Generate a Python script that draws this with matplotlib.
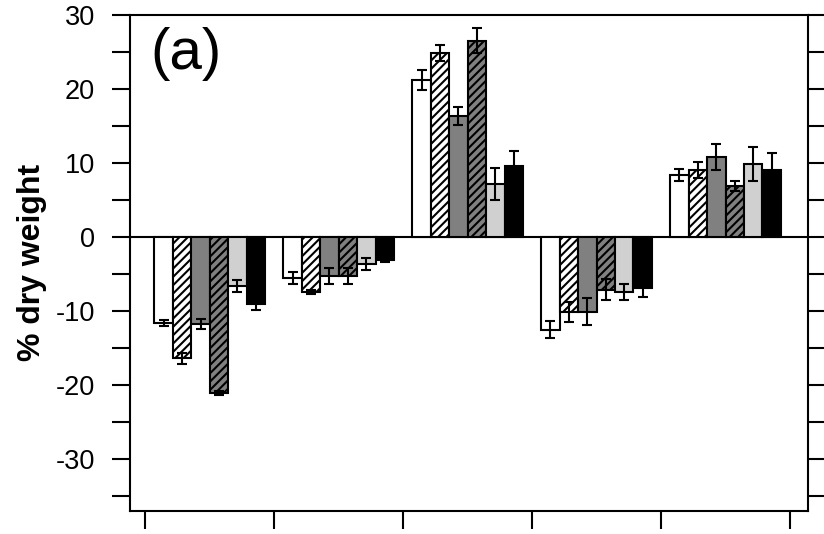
import numpy as np
import matplotlib
matplotlib.use('Agg')
import matplotlib.pyplot as plt
from matplotlib.ticker import MultipleLocator

# values (% dry weight), 5 groups x 6 treatments
n_groups = 5
white = [-11.6, -5.6, 21.2, -12.5, 8.4]
white_err = [0.45, 0.8, 1.3, 1.1, 0.8]
white_hatch = [-16.4, -7.4, 24.8, -10.1, 9.0]
white_hatch_err = [0.75, 0.3, 1.1, 1.35, 1.1]
gray = [-11.8, -5.3, 16.35, -10.1, 10.8]
gray_err = [0.68, 1.1, 1.2, 1.85, 1.7]
gray_hatch = [-21.1, -5.3, 26.5, -7.1, 6.9]
gray_hatch_err = [0.3, 1.1, 1.65, 1.4, 0.68]
light = [-6.6, -3.6, 7.2, -7.4, 9.9]
light_err = [0.84, 0.8, 2.15, 1.06, 2.3]
black = [-9.0, -3.15, 9.6, -6.85, 9.0]
black_err = [0.9, 0.3, 2.0, 1.2, 2.35]

panel_label = '(a)'
y_label = '% dry weight'
y_ticks = [-30, -20, -10, 0, 10, 20, 30]


def main():
    plt.rcParams['font.family'] = ['Liberation Sans', 'DejaVu Sans']
    plt.rcParams['hatch.linewidth'] = 1.5
    # the original uses a plain hyphen for negatives
    plt.rcParams['axes.unicode_minus'] = False

    fig = plt.figure(figsize=(8.24, 5.34), dpi=100)
    ax = fig.add_axes([0.1572, 0.0431, 0.8230, 0.9294])

    # (values, errors, face colour, hatch)
    series = [
        (white, white_err, 'white', None),
        (white_hatch, white_hatch_err, 'white', '////'),
        (gray, gray_err, '#808080', None),
        (gray_hatch, gray_hatch_err, '#808080', '////'),
        (light, light_err, '#d0d0d0', None),
        (black, black_err, 'black', None),
    ]

    x = np.arange(n_groups)
    width = 0.143
    offsets = (np.arange(len(series)) - (len(series) - 1) / 2) * width

    # zero line across the panel
    ax.axhline(0, color='black', linewidth=1.5, zorder=1)

    for (vals, errs, face, hatch), off in zip(series, offsets):
        ax.bar(x + off, vals, width, color=face, edgecolor='black',
               linewidth=1.5, hatch=hatch, zorder=2)
        ax.errorbar(x + off, vals, yerr=errs, fmt='none', ecolor='black',
                    elinewidth=1.5, capsize=3.5, capthick=1.5, zorder=3)

    ax.set_xlim(-0.622, 4.637)
    ax.set_ylim(-37, 30)

    # group separators as ticks, no labels
    ax.set_xticks(np.arange(n_groups + 1) - 0.5)
    ax.set_xticklabels([])
    ax.tick_params(axis='x', direction='out', length=13, width=1.5)

    ax.set_yticks(y_ticks)
    ax.yaxis.set_minor_locator(MultipleLocator(5))
    ax.tick_params(axis='y', which='both', direction='out', length=13,
                   width=1.5, right=True, labelsize=19.5, pad=12)

    for side in ax.spines.values():
        side.set_linewidth(1.5)

    ax.set_ylabel(y_label, fontsize=23, fontweight='bold', labelpad=6)
    ax.text(0.03, 0.975, panel_label, transform=ax.transAxes,
            fontsize=42, va='top', ha='left')

    plt.savefig('out.png', dpi=100)
    plt.close()


if __name__ == "__main__":
    main()
